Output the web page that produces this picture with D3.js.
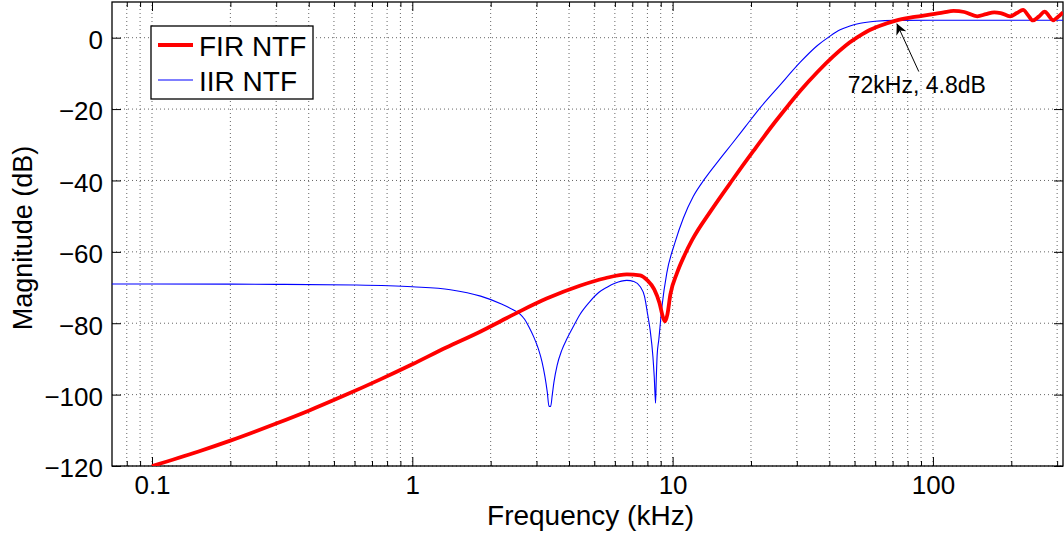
<!DOCTYPE html>
<html>
<head>
<meta charset="utf-8">
<script src="https://cdn.jsdelivr.net/npm/d3@7"></script>
<style>
  body { margin: 0; background: #fff; }
  svg text { font-family: "Liberation Sans", Arial, Helvetica, sans-serif; fill: #000; }
</style>
</head>
<body>
<div id="chart"></div>
<script>
// FIR NTF (red, thick) - frequency in kHz, magnitude in dB
var firFreq = [0.1, 0.15, 0.2, 0.3, 0.4, 0.55, 0.75, 1, 1.35, 1.83, 2.2, 2.6, 3.28, 4.4, 5.5, 6.67, 7.5, 8.0, 8.5, 8.9, 9.2, 9.35, 9.55, 9.8, 10.4, 11.1, 11.9, 14, 17, 20.5, 24.7, 28, 31, 36, 41.3, 46, 51, 56, 63, 72, 85,
  100, 110, 120, 132, 148, 160, 172, 182, 198, 210, 222, 232, 242, 255, 269, 279, 289, 302, 316];
var firMag = [-120, -116.0, -112.9, -108.1, -104.5, -100.2, -95.8, -91.5, -86.8, -82.3, -79.3, -76.6, -73.1, -69.5, -67.4, -66.3, -66.6, -68, -70.5, -74.3, -78.5, -79.5, -77.5, -72, -65.9, -61, -56.6, -48.6, -39.8, -31.6, -23.7, -18.7, -14.8, -9.6, -5.3, -2.3, 0.0, 1.8, 3.4, 4.8, 5.8,
  6.6, 7.1, 7.5, 7.2, 6.0, 6.6, 7.1, 6.9, 6.0, 6.9, 7.8, 6.3, 4.85, 5.9, 7.3, 6.1, 4.85, 5.8, 7.1];

// IIR NTF (blue, thin)
var iirFreq = [0.07, 0.1, 0.2, 0.3, 0.6, 1, 1.4, 1.83, 2.2, 2.45, 2.6, 2.7, 2.8, 2.93, 3.05, 3.15, 3.23, 3.3, 3.35, 3.40, 3.45, 3.5, 3.6, 3.75, 3.93, 4.15, 4.4, 4.8, 5.2, 5.6, 6.0, 6.67, 7.1, 7.5, 7.8, 8.0, 8.2, 8.4, 8.5, 8.6, 8.65, 8.72, 8.85, 9.1, 9.5, 10.2, 11, 12, 13.3, 15, 17, 19, 21.6, 25.7, 31, 36, 40, 44, 48, 52.6, 60, 72, 100, 200, 316];
var iirMag = [-69.0, -69.0, -69.05, -69.1, -69.3, -69.8, -70.6, -72.4, -74.6, -76.3, -77.5, -78.9, -80.9, -83.9, -87.2, -90.8, -94.8, -99.3, -103.3, -103.3, -100, -96.5, -91.8, -87.6, -84.3, -81.0, -77.6, -74.0, -71.4, -69.9, -68.8, -68.0, -68.3, -69.7, -72.5, -77.1, -82, -89.3, -95, -102.4, -96, -89, -84.6, -75.3, -65.9, -57.5, -50.5, -44.5, -39.5, -34.5, -29.5, -25.0, -19.8, -13.5, -6.8, -2.2, 0.3, 2.2, 3.3, 4.05, 4.6, 4.85, 4.9, 4.9, 4.9];

var xMajor = [0.1, 1, 10, 100];
var xMajorLabels = ["0.1", "1", "10", "100"];
var yTicks = [-120, -100, -80, -60, -40, -20, 0];

var seriesNames = ["FIR NTF", "IIR NTF"];
var seriesColors = ["#ff0000", "#0000ff"];

var annFreq = 72, annMag = 4.8;
var annText = "72kHz, 4.8dB";

var margin = { top: 2, right: 1, bottom: 69, left: 112 },
    width = 1064 - margin.left - margin.right,
    height = 535 - margin.top - margin.bottom;

var svg = d3.select("#chart").append("svg")
    .attr("width", 1064)
    .attr("height", 535);

var g = svg.append("g")
    .attr("transform", "translate(" + margin.left + "," + margin.top + ")");

var x = d3.scaleLog().domain([0.0702, 316]).range([0, width]);
var y = d3.scaleLinear().domain([-120, 10]).range([height, 0]);

var xMinor = x.ticks().filter(function (d) {
    return xMajor.indexOf(+d.toPrecision(6)) < 0;
});

svg.append("defs").append("clipPath").attr("id", "plotclip")
    .append("rect").attr("width", width).attr("height", height);

// grid
g.selectAll(".xgrid").data(x.ticks()).enter().append("line")
    .attr("x1", function (d) { return x(d); })
    .attr("x2", function (d) { return x(d); })
    .attr("y1", height).attr("y2", 0)
    .attr("stroke", "#666").attr("stroke-width", 1)
    .attr("stroke-dasharray", "1,3");

g.selectAll(".ygrid").data(yTicks).enter().append("line")
    .attr("y1", function (d) { return y(d); })
    .attr("y2", function (d) { return y(d); })
    .attr("x1", 0).attr("x2", width)
    .attr("stroke", "#666").attr("stroke-width", 1)
    .attr("stroke-dasharray", "1,3");

// axes, ticks pointing inwards
function styleAxis(sel) {
    sel.select(".domain").remove();
    sel.selectAll(".tick line").attr("stroke", "#000");
    sel.selectAll("text").style("font-size", "26px");
}

g.append("g").attr("transform", "translate(0," + height + ")")
    .call(d3.axisBottom(x).tickValues(xMajor).tickSize(-9).tickSizeOuter(0).tickPadding(10)
        .tickFormat(function (d, i) { return xMajorLabels[i]; }))
    .call(styleAxis);
g.append("g").attr("transform", "translate(0," + height + ")")
    .call(d3.axisBottom(x).tickValues(xMinor).tickSize(-5).tickSizeOuter(0).tickFormat(""))
    .call(styleAxis);
g.append("g")
    .call(d3.axisTop(x).tickValues(xMajor).tickSize(-9).tickSizeOuter(0).tickFormat(""))
    .call(styleAxis);
g.append("g")
    .call(d3.axisTop(x).tickValues(xMinor).tickSize(-5).tickSizeOuter(0).tickFormat(""))
    .call(styleAxis);

g.append("g")
    .call(d3.axisLeft(y).tickValues(yTicks).tickSize(-9).tickSizeOuter(0).tickPadding(9)
        .tickFormat(function (d) { return d < 0 ? "\u2212" + Math.abs(d) : d; }))
    .call(styleAxis)
    .selectAll("text").attr("dy", "0.42em");
g.append("g").attr("transform", "translate(" + width + ",0)")
    .call(d3.axisRight(y).tickValues(yTicks).tickSize(-9).tickSizeOuter(0).tickFormat(""))
    .call(styleAxis);

// frame
g.append("rect")
    .attr("width", width).attr("height", height)
    .attr("fill", "none").attr("stroke", "#000").attr("stroke-width", 1.3);

// curves
var line = d3.line()
    .x(function (d) { return x(d[0]); })
    .y(function (d) { return y(d[1]); })
    .curve(d3.curveMonotoneX);

var plot = g.append("g").attr("clip-path", "url(#plotclip)");

plot.append("path")
    .datum(iirFreq.map(function (f, i) { return [f, iirMag[i]]; }))
    .attr("d", line)
    .attr("fill", "none")
    .attr("stroke", seriesColors[1])
    .attr("stroke-width", 1.1);

plot.append("path")
    .datum(firFreq.map(function (f, i) { return [f, firMag[i]]; }))
    .attr("d", line)
    .attr("fill", "none")
    .attr("stroke", seriesColors[0])
    .attr("stroke-width", 3.8)
    .attr("stroke-linejoin", "round");

// annotation arrow
svg.select("defs").append("marker")
    .attr("id", "arrowhead")
    .attr("viewBox", "0 0 10 10")
    .attr("refX", 10).attr("refY", 5)
    .attr("markerWidth", 11).attr("markerHeight", 11)
    .attr("markerUnits", "userSpaceOnUse")
    .attr("orient", "auto")
    .append("path")
    .attr("d", "M0,0 L10,5 L0,10 L3,5 Z")
    .attr("fill", "#000");

var ax = x(annFreq), ay = y(annMag);
g.append("line")
    .attr("x1", ax + 23).attr("y1", ay + 51)
    .attr("x2", ax + 1).attr("y2", ay + 3)
    .attr("stroke", "#000").attr("stroke-width", 1)
    .attr("marker-end", "url(#arrowhead)");

g.append("text")
    .attr("x", ax - 48).attr("y", ay + 72)
    .style("font-size", "23px")
    .text(annText);

// legend
var legend = g.append("g").attr("transform", "translate(39,24)");
legend.append("rect")
    .attr("width", 162).attr("height", 73)
    .attr("fill", "#fff").attr("stroke", "#000").attr("stroke-width", 1.3);
seriesNames.forEach(function (name, i) {
    var ly = 19 + i * 35;
    legend.append("line")
        .attr("x1", 7).attr("x2", 42)
        .attr("y1", ly).attr("y2", ly)
        .attr("stroke", seriesColors[i])
        .attr("stroke-width", i === 0 ? 3.8 : 1.1);
    legend.append("text")
        .attr("x", 48).attr("y", ly + 11)
        .style("font-size", "28px")
        .text(name);
});

// axis titles
g.append("text")
    .attr("x", width / 2 + 3).attr("y", height + 59)
    .attr("text-anchor", "middle")
    .style("font-size", "28px")
    .text("Frequency (kHz)");

g.append("text")
    .attr("transform", "translate(-80," + (height / 2 + 4) + ") rotate(-90)")
    .attr("text-anchor", "middle")
    .style("font-size", "27px")
    .text("Magnitude (dB)");
</script>
</body>
</html>
